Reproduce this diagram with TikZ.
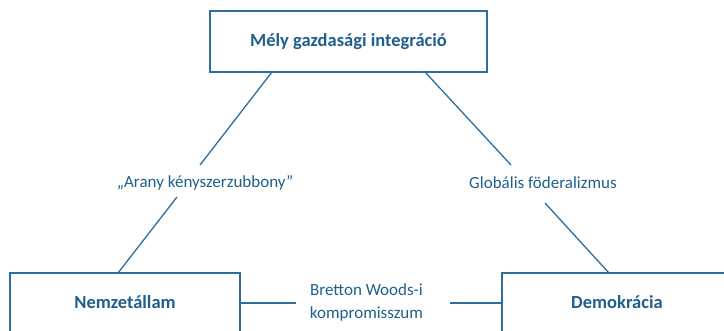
\documentclass[tikz,border=0pt]{standalone}
\usepackage{fontspec}
\setmainfont{Carlito}
\definecolor{txtblue}{HTML}{1F5F8B}
\definecolor{lineblue}{HTML}{2F6E9C}
\begin{document}
\begin{tikzpicture}[x=1pt,y=-1pt,
  box/.style={draw=lineblue, line width=1.4pt, minimum width=#1, minimum height=61pt, inner sep=0pt,
     text=txtblue, font=\fontsize{18.5}{22}\selectfont\bfseries},
  lbl/.style={text=txtblue, font=\fontsize{17}{23}\selectfont, inner sep=0pt, align=center},
  conn/.style={draw=lineblue, line width=1.3pt}]
\useasboundingbox (0,0) rectangle (724,330);
\clip (0,0) rectangle (724,330);
\node[box=277pt] (top) at (348.5,41.5) {\raisebox{3pt}{Mély gazdasági integráció}};
\node[box=230pt] (left) at (125,303.5) {\raisebox{2pt}{Nemzetállam}};
\node[box=230pt] (right) at (617,303.5) {\raisebox{2pt}{Demokrácia}};
\node[lbl] (arany) at (205,183) {„Arany kényszerzubbony”};
\node[lbl] (glob) at (543,183) {Globális föderalizmus};
\node[lbl] (bw) at (366.5,302.5) {Bretton Woods-i\\kompromisszum};
% connector end points
\coordinate (t1) at (272,72);
\coordinate (a1) at (200,165);
\coordinate (a2) at (177,197);
\coordinate (l1) at (118,273);
\coordinate (t2) at (425,72);
\coordinate (g1) at (511,165);
\coordinate (g2) at (545,203);
\coordinate (r1) at (609,273);
\coordinate (b1) at (296,303);
\coordinate (b2) at (450,303);
\draw[conn] (t1) -- (a1);
\draw[conn] (a2) -- (l1);
\draw[conn] (t2) -- (g1);
\draw[conn] (g2) -- (r1);
\draw[conn] (left.east |- b1) -- (b1);
\draw[conn] (b2) -- (right.west |- b2);
\end{tikzpicture}
\end{document}
